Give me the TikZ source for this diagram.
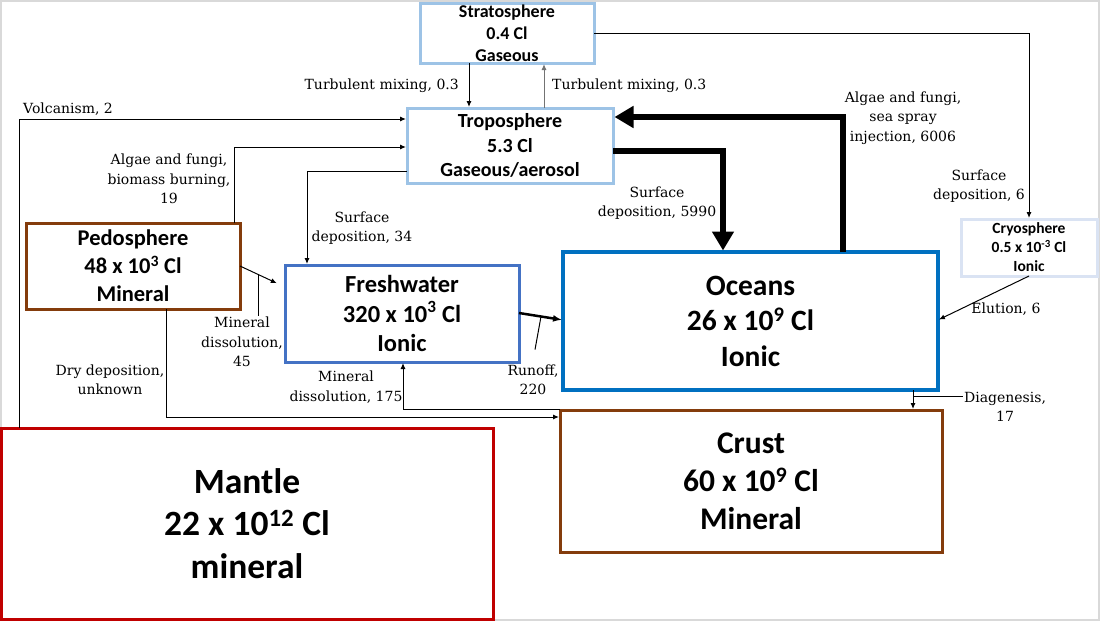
\documentclass[tikz,border=0pt]{standalone}
\usepackage{fontspec}
\usepackage{tikz}
\usetikzlibrary{arrows.meta}
\newfontfamily\poolfont{Carlito}
\newfontfamily\flowfont{DejaVu Serif}
\newcommand{\pfont}[2]{\poolfont\bfseries\fontsize{#1}{#2}\selectfont}
\definecolor{airblue}{HTML}{9DC3E6}
\definecolor{iceblue}{HTML}{DAE3F3}
\definecolor{soilbrown}{HTML}{843C0C}
\definecolor{lakeblue}{HTML}{4472C4}
\definecolor{seablue}{HTML}{0070C0}
\definecolor{mantlered}{HTML}{C00000}
\definecolor{framegray}{HTML}{D9D9D9}
\tikzset{
  pool/.style={draw, line width=3pt, outer sep=0pt, inner sep=0pt, align=center},
  lbl/.style={font=\flowfont\fontsize{14}{19.5}\selectfont, align=center, inner sep=1pt},
  flow/.style={-{Latex[length=6pt,width=5pt]}, line width=1pt, shorten >=1pt},
  runoff/.style={-{Latex[length=9pt,width=7pt]}, line width=2.5pt, shorten >=1pt},
  bigflow/.style={-{Triangle[length=19pt,width=21pt]}, line width=6.5pt, shorten >=1.5pt},
  leader/.style={line width=1pt}
}

\begin{document}
\begin{tikzpicture}[x=1pt,y=-1pt,line join=miter]
  \useasboundingbox (0,0) rectangle (1100,621);
  \draw[framegray,line width=2.5pt] (1,1) rectangle (1099,620);
  % reservoirs
  \node[pool,draw=airblue,minimum width=174pt,minimum height=60pt,font=\pfont{18}{22}] (strat) at (507,33) {Stratosphere\\0.4 Cl\\Gaseous};
  \node[pool,draw=airblue,minimum width=206pt,minimum height=75pt,font=\pfont{20}{24.5}] (tropo) at (510,145.5) {Troposphere\\5.3 Cl\\Gaseous/aerosol};
  \node[pool,draw=iceblue,minimum width=136pt,minimum height=57pt,font=\pfont{15.5}{19}] (cryo) at (1029,247.5) {Cryosphere\\0.5 x 10\textsuperscript{-3} Cl\\Ionic};
  \node[pool,draw=soilbrown,minimum width=214pt,minimum height=86pt,font=\pfont{22.5}{28}] (pedo) at (133,266) {Pedosphere\\48 x 10\textsuperscript{3} Cl\\Mineral};
  \node[pool,draw=lakeblue,minimum width=234pt,minimum height=97pt,font=\pfont{24.5}{29.5}] (fresh) at (402,313.5) {Freshwater\\320 x 10\textsuperscript{3} Cl\\Ionic};
  \node[pool,draw=seablue,line width=3.5pt,minimum width=375pt,minimum height=138pt,font=\pfont{29.5}{35.5}] (ocean) at (750.5,321) {Oceans\\26 x 10\textsuperscript{9} Cl\\Ionic};
  \node[pool,draw=soilbrown,minimum width=382pt,minimum height=142pt,font=\pfont{31.5}{38}] (crust) at (751,481) {Crust\\60 x 10\textsuperscript{9} Cl\\Mineral};
  \node[pool,draw=mantlered,minimum width=492pt,minimum height=191pt,font=\pfont{35.5}{42.5}] (mantle) at (247,523.5) {Mantle\\22 x 10\textsuperscript{12} Cl\\mineral};
  % flux labels
  \node[lbl,anchor=east] (mixdown) at (460,86) {Turbulent mixing, 0.3};
  \node[lbl,anchor=west] (mixup) at (551,86) {Turbulent mixing, 0.3};
  \node[lbl,anchor=west] (volc) at (22,109) {Volcanism, 2};
  \node[lbl] (algbio) at (169,179) {Algae and fungi,\\biomass burning,\\19};
  \node[lbl] (sd34) at (362,228) {Surface\\deposition, 34};
  \node[lbl] (sd5990) at (657,203) {Surface\\deposition, 5990};
  \node[lbl] (algsea) at (903,118) {Algae and fungi,\\sea spray\\injection, 6006};
  \node[lbl] (sd6) at (979,186) {Surface\\deposition, 6};
  \node[lbl] (elu) at (1006,309) {Elution, 6};
  \node[lbl] (min45) at (242,342) {Mineral\\dissolution,\\45};
  \node[lbl] (dry) at (110,380) {Dry deposition,\\unknown};
  \node[lbl] (min175) at (346,387) {Mineral\\dissolution, 175};
  \node[lbl] (run) at (533,380) {Runoff,\\220};
  \node[lbl] (dia) at (1005,407) {Diagenesis,\\17};
  % fluxes
  \draw[flow] (strat.south -| 469,0) -- (tropo.north -| 469,0);
  \draw[flow,black!55] (tropo.north -| 544,0) -- (strat.south -| 544,0);
  \draw[flow] (strat.east) -| (cryo.north);
  \draw[flow] (mantle.north -| 19,0) |- (tropo.west |- 0,119);
  \draw[flow] (pedo.north -| 234,0) |- (tropo.west |- 0,147);
  \draw[flow] (tropo.west |- 0,171) -| (fresh.north -| 307,0);
  \draw[bigflow] (tropo.east |- 0,151) -| (ocean.north -| 723,0);
  \draw[bigflow] (ocean.north -| 843,0) |- (tropo.east |- 0,117);
  \draw[flow,shorten >=9pt] (pedo.east |- 0,266) -- coordinate[pos=0.4] (m45) (fresh.west |- 0,287);
  \draw[leader] (m45) -- (m45 |- min45.north);
  \draw[runoff] (fresh.east |- 0,313) -- coordinate[pos=0.5] (r220) (ocean.west |- 0,320);
  \draw[leader] (r220) -- ([shift={(2pt,14pt)}]run.north);
  \draw[flow] (cryo.south) -- (ocean.east |- 0,320);
  \draw[flow] (ocean.south -| 913,0) -- coordinate[pos=0.32] (d17) (crust.north -| 913,0);
  \draw[leader] (d17) -- (d17 -| dia.west);
  \draw[flow] (crust.west |- 0,409) -| (fresh.south -| 403,0);
  \draw[flow] (pedo.south -| 166,0) |- (crust.west |- 0,417);
\end{tikzpicture}
\end{document}
